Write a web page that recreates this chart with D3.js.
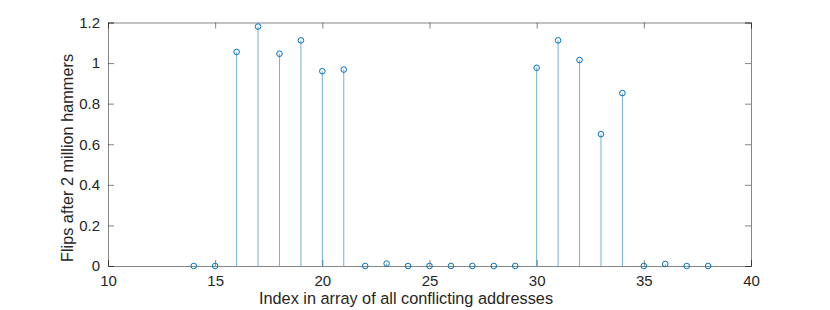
<!DOCTYPE html>
<html>
<head>
<meta charset="utf-8">
<script src="https://cdn.jsdelivr.net/npm/d3@7"></script>
<style>
  body { margin: 0; background: #fff; }
  text { font-family: "Liberation Sans", Arial, sans-serif; fill: #262626; }
</style>
</head>
<body>
<div class="canvas"></div>
<script>
// indices and flips
const indices = [14, 15, 16, 17, 18, 19, 20, 21, 22, 23, 24, 25, 26, 27, 28, 29, 30, 31, 32, 33, 34, 35, 36, 37, 38];
const flips = [0, 0, 1.055, 1.18, 1.046, 1.112, 0.96, 0.968, 0, 0.012, 0, 0, 0, 0, 0, 0, 0.977, 1.112, 1.015, 0.65, 0.852, 0, 0.01, 0, 0];
const xTicks = [10, 15, 20, 25, 30, 35, 40];
const yTicks = [0, 0.2, 0.4, 0.6, 0.8, 1, 1.2];

const data = indices.map((d, i) => ({ idx: d, val: flips[i] }));

const svg = d3.select('.canvas')
  .append('svg')
    .attr('width', 830)
    .attr('height', 310);

const mLeft = 108, mRight = 751, mTop = 22.5, mBottom = 266;

const x = d3.scaleLinear()
  .domain([10, 40])
  .range([mLeft, mRight]);

const y = d3.scaleLinear()
  .domain([0, 1.2])
  .range([mBottom, mTop]);

const axisColor = '#262626';

// bottom axis
const xAxis = svg.append('g')
  .attr('transform', `translate(0,${mBottom})`)
  .call(d3.axisBottom(x).tickValues(xTicks).tickSize(-6).tickPadding(9).tickFormat(d3.format('d')));

// top axis (ticks only)
const xTop = svg.append('g')
  .attr('transform', `translate(0,${mTop})`)
  .call(d3.axisTop(x).tickValues(xTicks).tickSize(-6).tickFormat(''));

// left axis
const yAxis = svg.append('g')
  .attr('transform', `translate(${mLeft},0)`)
  .call(d3.axisLeft(y).tickValues(yTicks).tickSize(-6).tickPadding(8).tickFormat(d => d3.format('~g')(d)));

// right axis (ticks only)
const yRight = svg.append('g')
  .attr('transform', `translate(${mRight},0)`)
  .call(d3.axisRight(y).tickValues(yTicks).tickSize(-6).tickFormat(''));

[xAxis, xTop, yAxis, yRight].forEach(g => {
  g.select('.domain').attr('stroke', axisColor).attr('stroke-width', 0.8).attr('opacity', 0.7);
  g.selectAll('.tick line').attr('stroke', axisColor).attr('stroke-width', 0.8).attr('opacity', 0.7);
  g.selectAll('.tick text').attr('font-size', 15).attr('fill', axisColor)
    .style('font-family', '"Liberation Sans", Arial, sans-serif');
});

// stems
svg.selectAll('line.stem')
  .data(data)
  .enter()
  .append('line')
    .attr('class', 'stem')
    .attr('x1', d => x(d.idx))
    .attr('x2', d => x(d.idx))
    .attr('y1', y(0))
    .attr('y2', d => y(d.val))
    .attr('stroke', '#0072BD')
    .attr('stroke-width', 1)
    .attr('opacity', 0.55);

// markers
svg.selectAll('circle')
  .data(data)
  .enter()
  .append('circle')
    .attr('cx', d => x(d.idx))
    .attr('cy', d => y(d.val))
    .attr('r', 2.8)
    .attr('fill', 'none')
    .attr('stroke', '#0072BD')
    .attr('stroke-width', 1);

// labels
svg.append('text')
  .attr('x', 406)
  .attr('y', 304)
  .attr('text-anchor', 'middle')
  .attr('font-size', 16.3)
  .text('Index in array of all conflicting addresses');

svg.append('text')
  .attr('transform', `translate(73,158) rotate(-90)`)
  .attr('text-anchor', 'middle')
  .attr('font-size', 16.3)
  .text('Flips after 2 million hammers');
</script>
</body>
</html>
